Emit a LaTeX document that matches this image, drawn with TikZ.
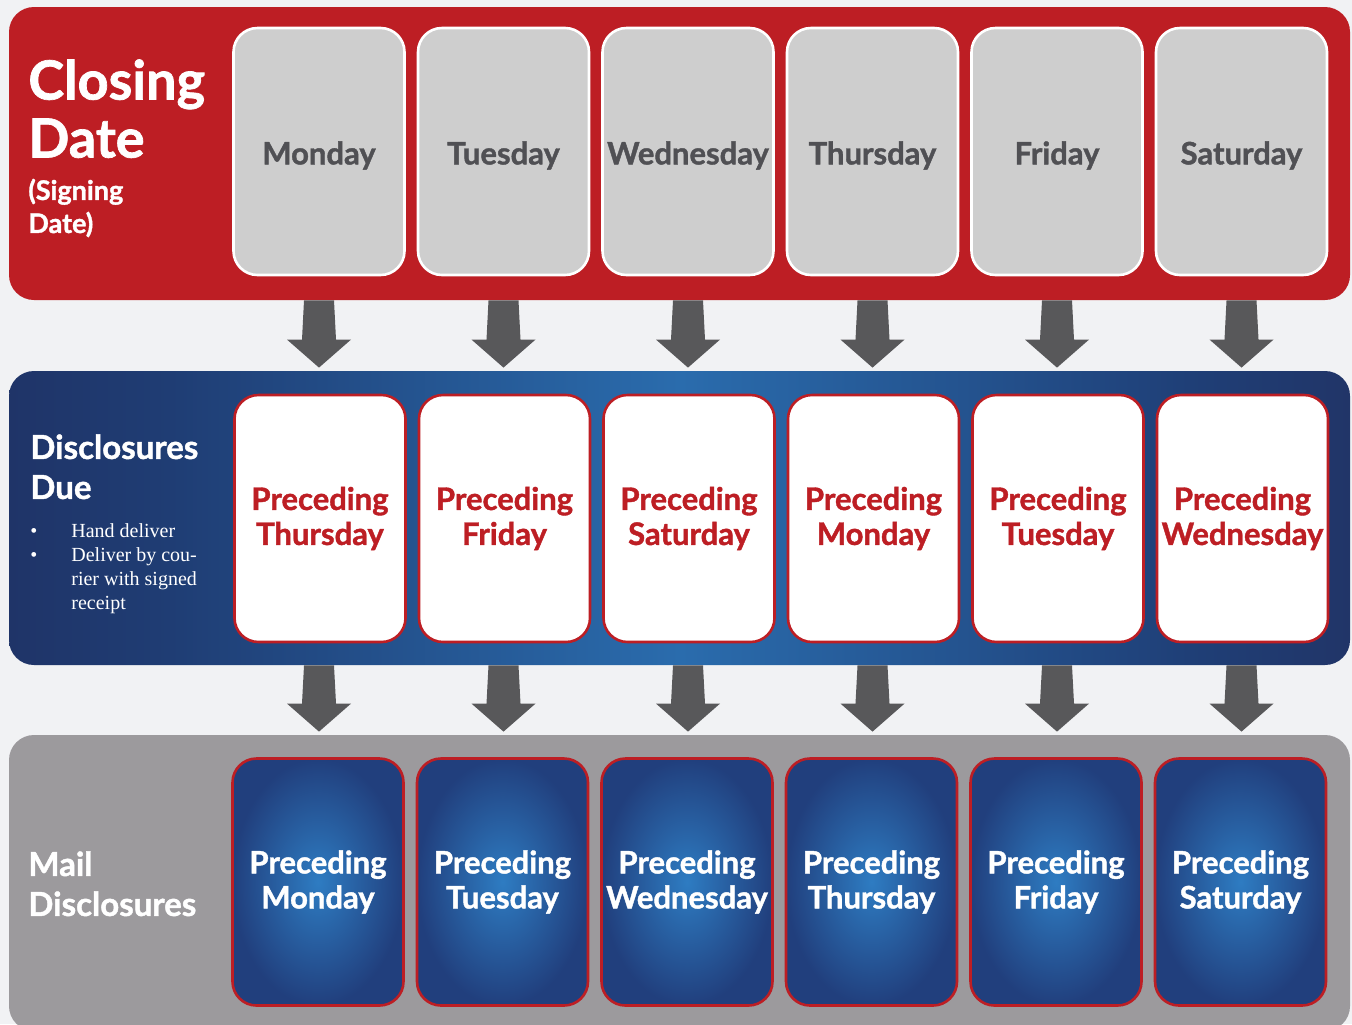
\documentclass[tikz,border=0pt]{standalone}
\usepackage{fontspec}
\setmainfont{Lato}[BoldFeatures={FakeBold=1.3}]
\newfontfamily\notesfont{Liberation Serif}
\usepackage{xcolor}
\usepackage{tikz}
\usetikzlibrary{calc}
\usetikzlibrary{positioning}

\definecolor{pagegray}{HTML}{F1F2F4}
\definecolor{closered}{HTML}{BD1E24}
\definecolor{daygray}{HTML}{CECECE}
\definecolor{daytext}{HTML}{505054}
\definecolor{arrowgray}{HTML}{58585A}
\definecolor{dueblueL}{HTML}{1F3468}
\definecolor{dueblueA}{HTML}{1F3D74}
\definecolor{dueblueM}{HTML}{2A6CAD}
\definecolor{dueblueB}{HTML}{1F3F77}
\definecolor{dueblueR}{HTML}{213568}
\definecolor{mailgray}{HTML}{9C9A9D}
\definecolor{mailblueIn}{HTML}{2E7CC2}
\definecolor{mailblueOut}{HTML}{213F7D}

\pgfdeclarehorizontalshading{dueshade}{100bp}{color(0bp)=(dueblueL); color(25bp)=(dueblueL); color(31bp)=(dueblueA); color(50bp)=(dueblueM); color(69bp)=(dueblueB); color(75bp)=(dueblueR); color(100bp)=(dueblueR)}

\begin{document}
\begin{tikzpicture}[x=0.5pt,y=-0.5pt,
  band/.style={rounded corners=12.5pt,minimum width=670.5pt,inner sep=0pt},
  daybox/.style={rounded corners=12pt,minimum width=85.5pt,minimum height=123.5pt,inner sep=0pt,line width=1.3pt,align=center,font=\bfseries\fontsize{15.5}{17.5}\selectfont,execute at begin node={\rule{0pt}{15.5pt}}},
  closebox/.style={daybox,draw=white,fill=daygray,text=daytext},
  duebox/.style={daybox,draw=closered,fill=white,text=closered,execute at begin node={\rule{0pt}{21.5pt}}},
  mailbox/.style={daybox,draw=closered,inner color=mailblueIn,outer color=mailblueOut,text=white,execute at begin node={\rule{0pt}{21.5pt}}},
  rowlabel/.style={anchor=north west,align=left,inner sep=0pt,text=white,font=\bfseries\fontsize{16.5}{20}\selectfont},
  fatarrow/.style={fill=arrowgray,to path={let \p1=(\tikztostart),\p2=(\tikztotarget) in
    (\x1-7.5pt,\y1) -- (\x1+7.5pt,\y1) -- (\x1+8.5pt,\y2+15.5pt) -- (\x1+16pt,\y2+15.5pt)
    -- (\x1,\y2+1.5pt) -- (\x1-16pt,\y2+15.5pt) -- (\x1-8.5pt,\y2+15.5pt) -- cycle}}]
\useasboundingbox[fill=pagegray] (0,0) rectangle (1352,1024);
\clip (0,0) rectangle (1352,1024);

% the three bands
\node[band,fill=closered,minimum height=146.5pt] (closing) at (679.5,153.5) {};
\node[band,shading=dueshade,minimum height=147pt] (due) at (679.5,518) {};
\node[band,fill=mailgray,minimum height=148pt] (mail) at (679.5,883) {};

% row labels
\node[rowlabel,font=\bfseries\fontsize{27}{29}\selectfont] (cdtitle) at (28,59) {Closing\\Date};
\node[rowlabel,font=\bfseries\fontsize{13.5}{16.5}\selectfont,below=10pt of cdtitle.south west,anchor=north west] (cdnote) {(Signing\\Date)};
\node[rowlabel] (duetitle) at (30,434) {Disclosures\\Due};
\node[inner sep=0pt,text=white,font=\notesfont\fontsize{10}{12}\selectfont,below=10.5pt of duetitle.south west,anchor=north west] (duenote) {\begin{tabular}{@{}p{20.5pt}@{}l@{}}\textbullet & Hand deliver\\ \textbullet & Deliver by cou-\\ & rier with signed\\ & receipt\end{tabular}};
\node[rowlabel] (mailtitle) at (28,851) {Mail\\Disclosures};

% closing day
\node[closebox] (cd1) at (319,151.5) {Monday};
\node[closebox] (cd2) at (503.5,151.5) {Tuesday};
\node[closebox] (cd3) at (688,151.5) {Wednesday};
\node[closebox] (cd4) at (872.5,151.5) {Thursday};
\node[closebox] (cd5) at (1057,151.5) {Friday};
\node[closebox] (cd6) at (1241.5,151.5) {Saturday};

% disclosures due
\node[duebox] (due1) at (320,518.5) {Preceding\\Thursday};
\node[duebox] (due2) at (504.5,518.5) {Preceding\\Friday};
\node[duebox] (due3) at (689,518.5) {Preceding\\Saturday};
\node[duebox] (due4) at (873.5,518.5) {Preceding\\Monday};
\node[duebox] (due5) at (1058,518.5) {Preceding\\Tuesday};
\node[duebox] (due6) at (1242.5,518.5) {Preceding\\Wednesday};

% mail disclosures
\node[mailbox] (mail1) at (318,882) {Preceding\\Monday};
\node[mailbox] (mail2) at (502.5,882) {Preceding\\Tuesday};
\node[mailbox] (mail3) at (687,882) {Preceding\\Wednesday};
\node[mailbox] (mail4) at (871.5,882) {Preceding\\Thursday};
\node[mailbox] (mail5) at (1056,882) {Preceding\\Friday};
\node[mailbox] (mail6) at (1240.5,882) {Preceding\\Saturday};

% arrows
\fill[fatarrow] (cd1 |- closing.south) to (cd1 |- due.north);
\fill[fatarrow] (cd2 |- closing.south) to (cd2 |- due.north);
\fill[fatarrow] (cd3 |- closing.south) to (cd3 |- due.north);
\fill[fatarrow] (cd4 |- closing.south) to (cd4 |- due.north);
\fill[fatarrow] (cd5 |- closing.south) to (cd5 |- due.north);
\fill[fatarrow] (cd6 |- closing.south) to (cd6 |- due.north);
\fill[fatarrow] (cd1 |- due.south) to (cd1 |- mail.north);
\fill[fatarrow] (cd2 |- due.south) to (cd2 |- mail.north);
\fill[fatarrow] (cd3 |- due.south) to (cd3 |- mail.north);
\fill[fatarrow] (cd4 |- due.south) to (cd4 |- mail.north);
\fill[fatarrow] (cd5 |- due.south) to (cd5 |- mail.north);
\fill[fatarrow] (cd6 |- due.south) to (cd6 |- mail.north);
\end{tikzpicture}
\end{document}
